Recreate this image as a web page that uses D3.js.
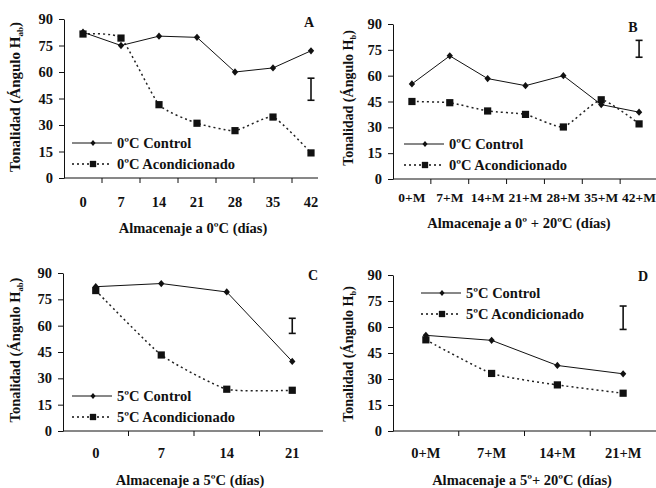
<!DOCTYPE html>
<html>
<head>
<meta charset="utf-8">
<script src="https://cdn.jsdelivr.net/npm/d3@7"></script>
<style>
  body { margin: 0; background: #fff; }
</style>
</head>
<body>
<div id="chart"></div>
<script>
// values
var yTicks = [0, 15, 30, 45, 60, 75, 90];

var catsA = ['0', '7', '14', '21', '28', '35', '42'];
var controlA = [82.5, 75, 80.3, 79.6, 60, 62.3, 72];
var acondA = [81.5, 79.2, 41.5, 31, 26.8, 34.5, 14.2];
var errA = [44, 56.5];

var catsB = ['0+M', '7+M', '14+M', '21+M', '28+M', '35+M', '42+M'];
var controlB = [55.2, 71.5, 58.3, 54.2, 60, 43.2, 38.8];
var acondB = [45, 44.3, 39.5, 37.5, 30.2, 46, 32];
var errB = [70.7, 80.5];

var catsC = ['0', '7', '14', '21'];
var controlC = [82.2, 84, 79.2, 39.6];
var acondC = [80, 43.3, 23.8, 23.2];
var errC = [55.6, 64.2];

var catsD = ['0+M', '7+M', '14+M', '21+M'];
var controlD = [55.2, 52.3, 37.8, 33];
var acondD = [52.6, 33.2, 26.6, 21.8];
var errD = [58.6, 72.1];

var FONT = '"Liberation Serif", "Times New Roman", serif';

var svg = d3.select('#chart').append('svg')
    .attr('width', 656).attr('height', 488);

var diamond = {
  draw: function(ctx, size) {
    var r = Math.sqrt(size) / 2;
    ctx.moveTo(0, -r * 1.15);
    ctx.lineTo(r, 0);
    ctx.lineTo(0, r * 1.15);
    ctx.lineTo(-r, 0);
    ctx.closePath();
  }
};

function txt(sel, size) {
  return sel.attr('font-family', FONT).attr('font-weight', 'bold')
      .attr('font-size', size).attr('fill', '#111');
}

function drawPanel(p) {
  var g = svg.append('g');
  var x = d3.scaleBand().domain(p.cats).range([p.x0, p.x1]);
  var y = d3.scaleLinear().domain([0, 90]).range([p.y0, p.y90]);
  var cx = function(d, i) { return x(p.cats[i]) + x.bandwidth() / 2; };

  // y axis
  var ya = g.append('g').attr('transform', 'translate(' + p.x0 + ',0)')
      .call(d3.axisLeft(y).tickValues(yTicks).tickSizeInner(5).tickSizeOuter(0).tickPadding(6));
  ya.attr('font-family', null).attr('font-size', null);
  txt(ya.selectAll('text'), 14.5);
  ya.selectAll('line, path').attr('stroke', '#111');

  // x axis: labels at centers, ticks at band boundaries
  var xa = g.append('g').attr('transform', 'translate(0,' + p.y0 + ')')
      .call(d3.axisBottom(x).tickSize(0).tickPadding(p.labPad));
  xa.attr('font-family', null).attr('font-size', null);
  xa.select('.domain').remove();
  txt(xa.selectAll('text'), p.labSize);
  g.append('line').attr('x1', p.x0).attr('x2', p.axEnd)
      .attr('y1', p.y0).attr('y2', p.y0).attr('stroke', '#111');
  g.selectAll('.bt').data(p.cats.slice(1)).enter().append('line')
      .attr('x1', function(d) { return x(d); }).attr('x2', function(d) { return x(d); })
      .attr('y1', p.y0).attr('y2', p.y0 + 5).attr('stroke', '#111');

  // titles
  txt(g.append('text'), 14.5).attr('x', p.xt).attr('y', p.yt).attr('text-anchor', 'middle')
      .text(p.xTitle);
  var yt = txt(g.append('text'), p.ytSize).attr('text-anchor', 'middle')
      .attr('transform', 'translate(' + p.ytx + ',' + p.yty + ') rotate(-90)');
  yt.append('tspan').text('Tonalidad (Ángulo H');
  yt.append('tspan').attr('dy', 3).attr('font-size', p.ytSize * 0.6).text(p.sub);
  yt.append('tspan').attr('dy', -3).text(')');
  txt(g.append('text'), 14).attr('x', p.lx).attr('y', p.ly).attr('text-anchor', 'middle')
      .text(p.letter);

  // series
  var lineStraight = d3.line().x(cx).y(function(d) { return y(d); });
  var lineSmooth = d3.line().x(cx).y(function(d) { return y(d); }).curve(d3.curveCardinal.tension(0.5));
  g.append('path').attr('d', lineSmooth(p.acond)).attr('fill', 'none')
      .attr('stroke', '#222').attr('stroke-width', 1.5).attr('stroke-dasharray', '2,3');
  g.append('path').attr('d', lineStraight(p.control)).attr('fill', 'none')
      .attr('stroke', '#111').attr('stroke-width', 1);
  g.selectAll('.sq').data(p.acond).enter().append('path')
      .attr('d', d3.symbol(d3.symbolSquare, 52))
      .attr('transform', function(d, i) { return 'translate(' + cx(d, i) + ',' + y(d) + ')'; })
      .attr('fill', '#111');
  g.selectAll('.dm').data(p.control).enter().append('path')
      .attr('d', d3.symbol(diamond, 40))
      .attr('transform', function(d, i) { return 'translate(' + cx(d, i) + ',' + y(d) + ')'; })
      .attr('fill', '#111');

  // error bar
  var ex = x(p.cats[p.cats.length - 1]) + x.bandwidth() / 2;
  g.append('line').attr('x1', ex).attr('x2', ex).attr('y1', y(p.err[0])).attr('y2', y(p.err[1]))
      .attr('stroke', '#111').attr('stroke-width', 1.6);
  p.err.forEach(function(v) {
    g.append('line').attr('x1', ex - 3.5).attr('x2', ex + 3.5).attr('y1', y(v)).attr('y2', y(v))
        .attr('stroke', '#111').attr('stroke-width', 1.6);
  });

  // legend
  var lg = g.append('g');
  lg.append('line').attr('x1', p.legX).attr('x2', p.legX + 40).attr('y1', p.legY).attr('y2', p.legY)
      .attr('stroke', '#111');
  lg.append('path').attr('d', d3.symbol(diamond, 26))
      .attr('transform', 'translate(' + (p.legX + 21) + ',' + p.legY + ')').attr('fill', '#111');
  txt(lg.append('text'), 14.5).attr('x', p.legX + 45).attr('y', p.legY).attr('dy', '0.35em')
      .text(p.temp + 'ºC Control');
  var l2 = p.legY + 21;
  lg.append('line').attr('x1', p.legX).attr('x2', p.legX + 40).attr('y1', l2).attr('y2', l2)
      .attr('stroke', '#111').attr('stroke-width', 1.5).attr('stroke-dasharray', '2,3');
  lg.append('path').attr('d', d3.symbol(d3.symbolSquare, 40))
      .attr('transform', 'translate(' + (p.legX + 21) + ',' + l2 + ')').attr('fill', '#111');
  txt(lg.append('text'), 14.5).attr('x', p.legX + 45).attr('y', l2).attr('dy', '0.35em')
      .text(p.temp + 'ºC Acondicionado');
}

drawPanel({cats: catsA, control: controlA, acond: acondA, err: errA,
  x0: 64, x1: 330, axEnd: 318, y0: 178, y90: 19, labPad: 19, labSize: 14.5,
  xTitle: 'Almacenaje a 0ºC (días)', xt: 193, yt: 233,
  ytx: 20, yty: 97, ytSize: 15, sub: 'ab', letter: 'A', lx: 309, ly: 27,
  legX: 72, legY: 143, temp: '0'});

drawPanel({cats: catsB, control: controlB, acond: acondB, err: errB,
  x0: 393, x1: 658, axEnd: 656, y0: 179, y90: 24, labPad: 13, labSize: 13.5,
  xTitle: 'Almacenaje a 0º + 20ºC (días)', xt: 519, yt: 228,
  ytx: 353, yty: 98, ytSize: 14, sub: 'b', letter: 'B', lx: 633, ly: 32,
  legX: 404, legY: 144, temp: '0'});

drawPanel({cats: catsC, control: controlC, acond: acondC, err: errC,
  x0: 63, x1: 325, axEnd: 323, y0: 431, y90: 273, labPad: 17, labSize: 14.5,
  xTitle: 'Almacenaje a 5ºC (días)', xt: 190, yt: 485,
  ytx: 20, yty: 350, ytSize: 14.5, sub: 'ab', letter: 'C', lx: 313, ly: 280,
  legX: 72, legY: 396, temp: '5'});

drawPanel({cats: catsD, control: controlD, acond: acondD, err: errD,
  x0: 393, x1: 656, axEnd: 656, y0: 431, y90: 275, labPad: 17, labSize: 14.5,
  xTitle: 'Almacenaje a 5º+ 20ºC (días)', xt: 522, yt: 485,
  ytx: 353, yty: 354, ytSize: 14, sub: 'b', letter: 'D', lx: 643, ly: 281,
  legX: 421, legY: 293, temp: '5'});
</script>
</body>
</html>
